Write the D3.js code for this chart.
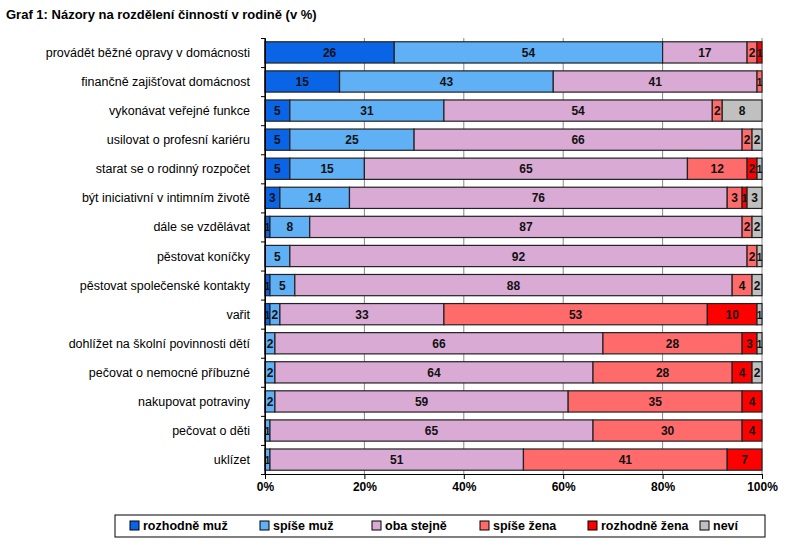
<!DOCTYPE html><html><head><meta charset="utf-8"><script src="https://d3js.org/d3.v7.min.js"></script>
<style>body{margin:0;background:#fff;font-family:Arial,"Liberation Sans",sans-serif}</style></head><body>
<svg id="c" width="787" height="549"></svg>
<script>
const categories=["provádět běžné opravy v domácnosti","finančně zajišťovat domácnost","vykonávat veřejné funkce","usilovat o profesní kariéru","starat se o rodinný rozpočet","být iniciativní v intimním životě","dále se vzdělávat","pěstovat koníčky","pěstovat společenské kontakty","vařit","dohlížet na školní povinnosti dětí","pečovat o nemocné příbuzné","nakupovat potraviny","pečovat o děti","uklízet"];
const seriesNames=["rozhodně muž","spíše muž","oba stejně","spíše žena","rozhodně žena","neví"];
const rozhodneMuz=[26,15,5,5,5,3,1,0,1,1,0,0,0,0,0];
const spiseMuz=[54,43,31,25,15,14,8,5,5,2,2,2,2,1,1];
const obaStejne=[17,41,54,66,65,76,87,92,88,33,66,64,59,65,51];
const spiseZena=[2,1,2,2,12,3,2,2,4,53,28,28,35,30,41];
const rozhodneZena=[1,0,0,0,2,1,0,0,0,10,3,4,4,4,7];
const nevi=[0,0,8,2,1,3,2,1,2,1,1,2,0,0,0];
const ticks=[0,20,40,60,80,100];
const colors=["#0a64e6","#5fb0f5","#d8aad4","#ff6a6a","#ff0000","#c0c0c0"];
const series=[rozhodneMuz,spiseMuz,obaStejne,spiseZena,rozhodneZena,nevi];
const svg=d3.select("#c");
svg.append("text").attr("x",6).attr("y",19).attr("font-size",13).attr("font-weight","bold").text("Graf 1: Názory na rozdělení činností v rodině (v %)");
const x=d3.scaleLinear().domain([0,100]).range([265,762]);
const y=d3.scaleBand().domain(categories).range([38,474]).paddingInner(0.27).paddingOuter(0.13);
const g=svg.append("g");
g.selectAll("line.grid").data(ticks).join("line").attr("x1",d=>x(d)).attr("x2",d=>x(d)).attr("y1",38).attr("y2",474).attr("stroke","#888").attr("stroke-width",1);
categories.forEach((c,i)=>{let acc=0;series.forEach((s,k)=>{const v=s[i];if(!v)return;
 g.append("rect").attr("x",x(acc)).attr("y",y(c)).attr("width",x(acc+v)-x(acc)).attr("height",y.bandwidth()).attr("fill",colors[k]).attr("stroke","#222").attr("stroke-width",1.2);
 const w=x(acc+v)-x(acc);
 g.append("text").attr("x",x(acc)+w/2).attr("y",y(c)+y.bandwidth()/2+4.5).attr("text-anchor","middle").attr("font-size",w<8?10:12).attr("font-weight","bold").attr("fill","#111").text(v);
 acc+=v;});
 svg.append("text").attr("x",250).attr("y",y(c)+y.bandwidth()/2+4.5).attr("text-anchor","end").attr("font-size",12.5).text(c);
});
const ax=svg.append("g").attr("transform","translate(0,474)").call(d3.axisBottom(x).tickValues(ticks).tickFormat(d=>d+"%").tickSizeOuter(0).tickSize(5));
ax.selectAll("text").attr("font-size",12).attr("font-weight","bold").attr("fill","#000").attr("font-family","Arial,'Liberation Sans'");
ax.selectAll("line,path").attr("stroke","#000");
svg.append("line").attr("x1",265).attr("x2",265).attr("y1",38).attr("y2",474).attr("stroke","#000");
const yt=svg.append("g").attr("transform","translate(265,0)").call(d3.axisLeft(d3.scaleLinear().domain([0,15]).range([474,38])).ticks(15).tickFormat("").tickSize(4).tickSizeOuter(0));
yt.selectAll("line,path").attr("stroke","#000");
const lg=svg.append("g");
lg.append("rect").attr("x",115).attr("y",515).attr("width",650).attr("height",22).attr("fill","none").attr("stroke","#000");
const lx=[130,260,372,480,588,700];
seriesNames.forEach((n,k)=>{lg.append("rect").attr("x",lx[k]).attr("y",521).attr("width",9).attr("height",9).attr("fill",colors[k]).attr("stroke","#000");
lg.append("text").attr("x",lx[k]+13).attr("y",530).attr("font-size",12.5).attr("font-weight","bold").text(n);});
</script></body></html>
